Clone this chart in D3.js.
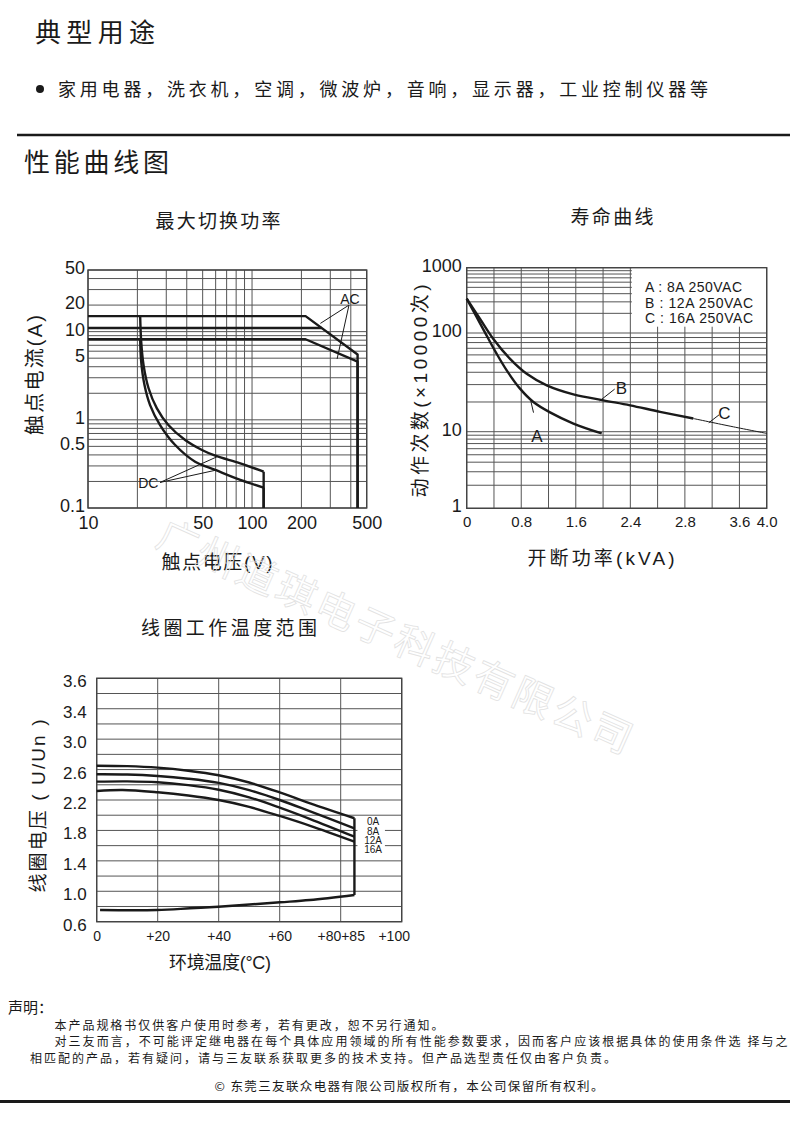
<!DOCTYPE html>
<html>
<head>
<meta charset="utf-8">
<title>性能曲线图</title>
<script src="https://d3js.org/d3.v7.min.js"></script>
<style>
  body { margin: 0; background: #fff; }
  svg text { fill: #1a1a1a; }
  .grid line { stroke: #555; stroke-width: 1; }
  .frame { fill: none; stroke: #444; stroke-width: 1.4; }
  .curve { fill: none; stroke: #1a1a1a; stroke-width: 2.4; stroke-linejoin: round; }
  .thin { fill: none; stroke: #1a1a1a; stroke-width: 1; }
</style>
</head>
<body>
<svg id="page" width="790" height="1128"></svg>
<script>
// ---- 最大切换功率 : 触点电压(V) / 触点电流(A)
var acTop = [[10, 15], [212, 15], [440, 5.5]];
var acMid = [[10, 11], [266, 11]];
var acLow = [[10, 8.2], [212, 8.2], [440, 4.56]];
var dcOuter = [[20.8, 14.8], [21.1, 7.7], [21.8, 4.2], [23.4, 2.28], [26.3, 1.35], [30.9, 0.873],
               [39.1, 0.59], [49.5, 0.455], [59.7, 0.392], [84.8, 0.321], [117.7, 0.258]];
var dcInner = [[20.8, 8.24], [21.1, 4.56], [22.1, 2.48], [23.9, 1.47], [27.5, 0.873], [34, 0.518],
               [45, 0.335], [59.7, 0.27], [84.8, 0.208], [117.7, 0.17]];
var swXTicks = [10, 50, 100, 200, 500];
var swYTicks = [0.1, 0.5, 1, 5, 10, 20, 50];

// ---- 寿命曲线 : 开断功率(kVA) / 动作次数(×10000次)
var lifeA = [[0, 336], [0.147, 175], [0.293, 94], [0.44, 61.5], [0.587, 41.8], [0.782, 27.3],
             [0.978, 20], [1.222, 15.7], [1.565, 12.1], [1.98, 9.5]];
var lifeB = [[0, 336], [0.196, 164], [0.391, 87], [0.636, 54.7], [0.88, 38.6], [1.174, 29.5],
             [1.565, 23.9], [2.005, 20.8], [2.396, 18.5], [2.618, 15.9], [2.924, 13.6]];
var lifeC = [[2.924, 13.6], [3.512, 11.2], [4.0, 9.5]];
var lifeXGrid = [0, 0.4, 0.8, 1.2, 1.6, 2.0, 2.4, 2.6, 2.8, 3.2, 3.6, 4.0];
var lifeXTicks = [0, 0.8, 1.6, 2.4, 2.8, 3.6, 4.0];
var lifeYTicks = [1, 10, 100, 1000];
var lifeLegend = ["A : 8A 250VAC", "B : 12A 250VAC", "C : 16A 250VAC"];

// ---- 线圈工作温度范围 : 环境温度(°C) / U/Un
var coil0A = [[0, 2.651], [10, 2.645], [20, 2.625], [30, 2.585], [40, 2.525], [50, 2.43], [60, 2.3], [70, 2.155], [84.5, 1.96]];
var coil8A = [[0, 2.538], [10, 2.535], [20, 2.516], [30, 2.48], [40, 2.425], [50, 2.33], [60, 2.2], [70, 2.05], [84.5, 1.828]];
var coil12A = [[0, 2.441], [10, 2.445], [20, 2.433], [30, 2.395], [40, 2.335], [50, 2.235], [60, 2.1], [70, 1.95], [84.5, 1.718]];
var coil16A = [[0, 2.318], [8.5, 2.332], [20, 2.302], [30, 2.26], [40, 2.2], [50, 2.11], [60, 1.99], [70, 1.86], [84.5, 1.652]];
var coilMin = [[1.1, 0.754], [19.7, 0.754], [30.6, 0.776], [39.9, 0.797], [60.1, 0.855], [69.9, 0.885], [84.5, 0.951]];
var coilNames = ["0A", "8A", "12A", "16A"];
var coilNameY = [1.915, 1.783, 1.674, 1.543];
var coilXTicks = [0, 20, 40, 60, 80, 100];
var coilXLabels = ["0", "+20", "+40", "+60", "+80+85", "+100"];
var coilYTicks = [0.6, 1.0, 1.4, 1.8, 2.2, 2.6, 3.0, 3.4, 3.6];
var coilYGrid = [0.6, 0.8, 1.0, 1.2, 1.4, 1.6, 1.8, 2.0, 2.2, 2.4, 2.6, 2.8, 3.0, 3.2, 3.4, 3.5, 3.6];

var CJK = '"Noto Sans CJK SC", sans-serif';
var NUM = '"Liberation Sans", "Noto Sans CJK SC", sans-serif';
var svg = d3.select("#page");

function txt(x, y, s, size, o) {
  o = o || {};
  var t = svg.append("text").attr("x", x).attr("y", y).attr("dy", "0.35em")
      .attr("font-size", size).attr("font-family", o.font || CJK)
      .attr("text-anchor", o.anchor || "start").text(s);
  if (o.weight) t.attr("font-weight", o.weight);
  if (o.len) t.attr("textLength", o.len).attr("lengthAdjust", "spacing");
  if (o.rotate) t.attr("transform", "rotate(" + o.rotate + "," + x + "," + y + ")");
  return t;
}

function grid(g, xs, ys, x, y, box) {
  var gg = g.append("g").attr("class", "grid");
  gg.selectAll(".v").data(xs).join("line").attr("class", "v")
    .attr("x1", x).attr("x2", x).attr("y1", box.t).attr("y2", box.b);
  gg.selectAll(".h").data(ys).join("line").attr("class", "h")
    .attr("y1", y).attr("y2", y).attr("x1", box.l).attr("x2", box.r);
}

function axisStyle(sel, size) {
  sel.attr("font-size", size).attr("font-family", NUM);
  sel.select(".domain").remove();
  sel.selectAll("text").attr("fill", "#1a1a1a");
}

// ---------- page texts
txt(35, 33, "典型用途", 26, { len: 120 });
svg.append("circle").attr("cx", 40).attr("cy", 89).attr("r", 4).attr("fill", "#1a1a1a");
txt(58, 90, "家用电器，洗衣机，空调，微波炉，音响，显示器，工业控制仪器等", 18, { len: 650 });
svg.append("line").attr("x1", 17).attr("x2", 790).attr("y1", 135).attr("y2", 135)
   .attr("stroke", "#1a1a1a").attr("stroke-width", 2.5);
txt(24, 163, "性能曲线图", 26, { len: 145 });

// ---------- chart 1 : 最大切换功率
var b1 = { l: 88, r: 366.7, t: 270, b: 508 };
var x1 = d3.scaleLog().domain([10, 500]).range([b1.l, b1.r]);
var y1 = d3.scaleLog().domain([0.1, 50]).range([b1.b, b1.t]);
var g1 = svg.append("g");
grid(g1, x1.ticks(), y1.ticks(), x1, y1, b1);
g1.append("rect").attr("class", "frame").attr("x", b1.l).attr("y", b1.t)
  .attr("width", b1.r - b1.l).attr("height", b1.b - b1.t);
g1.append("g").attr("transform", "translate(0," + b1.b + ")")
  .call(d3.axisBottom(x1).tickValues(swXTicks).tickFormat(d => d).tickSize(0).tickPadding(8))
  .call(axisStyle, 18);
g1.append("g").attr("transform", "translate(" + b1.l + ",0)")
  .call(d3.axisLeft(y1).tickValues(swYTicks).tickFormat(d => d).tickSize(0).tickPadding(3))
  .call(axisStyle, 18)
  .call(g => g.selectAll("text").attr("dy", "0.2em"));

var line1 = d3.line().x(d => x1(d[0])).y(d => y1(d[1]));
var smooth1 = d3.line().curve(d3.curveCatmullRom.alpha(0.5)).x(d => x1(d[0])).y(d => y1(d[1]));
function drop1(arr) { var p = arr[arr.length - 1]; return [p, [p[0], y1.domain()[0]]]; }
[acTop, acLow].forEach(function (a) {
  g1.append("path").attr("class", "curve").attr("d", line1(a.concat(drop1(a).slice(1))));
});
g1.append("path").attr("class", "curve").attr("d", line1(acMid));
[dcOuter, dcInner].forEach(function (a) {
  g1.append("path").attr("class", "curve").attr("d", smooth1(a));
  g1.append("path").attr("class", "curve").attr("d", line1(drop1(a)));
});
// AC / DC callouts
txt(x1(395), y1(23.5), "AC", 14, { font: NUM, anchor: "middle" });
g1.append("path").attr("class", "thin")
  .attr("d", line1([[261, 12.4], [390, 20], [330, 4.9]]));
txt(x1(23.3), y1(0.19), "DC", 14, { font: NUM, anchor: "middle" });
g1.append("path").attr("class", "thin")
  .attr("d", line1([[61, 0.38], [27.5, 0.195], [61, 0.27]]));
txt(218, 221, "最大切换功率", 19, { anchor: "middle", len: 125 });
txt(217, 562, "触点电压(V)", 19, { anchor: "middle", len: 111, font: NUM });
txt(35, 375, "触点电流(A)", 20, { anchor: "middle", len: 120, font: NUM, rotate: -90 });

// ---------- chart 2 : 寿命曲线
var b2 = { l: 466.7, r: 766.7, t: 267.7, b: 508.3 };
var cell2 = (b2.r - b2.l) / 11;
var x2 = d3.scaleLinear().domain([0, 2.4, 2.8, 3.6, 4.0]).range([0, 6, 8, 10, 11].map(k => b2.l + k * cell2));
var y2 = d3.scaleLog().domain([1, 10, 100, 1000]).range([b2.b, 431.7, 333, b2.t]);
var g2 = svg.append("g");
grid(g2, lifeXGrid, y2.ticks(), x2, y2, b2);
g2.append("rect").attr("x", x2(2.4) + 1.5).attr("y", b2.t).attr("width", b2.r - x2(2.4) - 1.5)
  .attr("height", 59).attr("fill", "#fff");
g2.append("rect").attr("class", "frame").attr("x", b2.l).attr("y", b2.t)
  .attr("width", b2.r - b2.l).attr("height", b2.b - b2.t);
g2.append("g").attr("transform", "translate(0," + b2.b + ")")
  .call(d3.axisBottom(x2).tickValues(lifeXTicks).tickFormat(d3.format(".1f")).tickSize(0).tickPadding(8))
  .call(axisStyle, 15)
  .call(g => g.selectAll("text").text((d, i) => i === 0 ? "0" : d3.format(".1f")(d)));
g2.append("g").attr("transform", "translate(" + b2.l + ",0)")
  .call(d3.axisLeft(y2).tickValues(lifeYTicks).tickFormat(d => d).tickSize(0).tickPadding(5))
  .call(axisStyle, 18)
  .call(g => g.selectAll("text").attr("dy", "0.2em"));

var smooth2 = d3.line().curve(d3.curveCatmullRom.alpha(0.5)).x(d => x2(d[0])).y(d => y2(d[1]));
var line2 = d3.line().x(d => x2(d[0])).y(d => y2(d[1]));
g2.append("path").attr("class", "curve").attr("d", smooth2(lifeA));
g2.append("path").attr("class", "curve").attr("d", smooth2(lifeB));
g2.append("path").attr("class", "thin").attr("stroke-width", 1.2).attr("d", smooth2(lifeC));
lifeLegend.forEach(function (s, i) {
  txt(645, 287.3 + i * 15.5, s, 14, { font: NUM, len: [97, 108, 108][i] });
});
txt(x2(1.03), y2(8.7), "A", 17, { font: NUM, anchor: "middle" });
g2.append("path").attr("class", "thin").attr("d", line2([[0.94, 20.5], [0.98, 15.6]]));
txt(x2(2.27), y2(27.6), "B", 17, { font: NUM, anchor: "middle" });
g2.append("path").attr("class", "thin").attr("d", line2([[2.17, 27], [1.95, 20.5]]));
txt(x2(3.38), y2(15.5), "C", 17, { font: NUM, anchor: "middle" });
g2.append("path").attr("class", "thin").attr("d", line2([[3.3, 14.8], [3.15, 12.3]]));
txt(612, 217, "寿命曲线", 19, { anchor: "middle", len: 83 });
txt(601, 558, "开断功率(kVA)", 19, { anchor: "middle", len: 147, font: NUM });
txt(420, 391, "动作次数(×10000次)", 19, { anchor: "middle", len: 213, font: NUM, rotate: -90 });

// ---------- chart 3 : 线圈工作温度范围
var b3 = { l: 96.7, r: 401.7, t: 678.3, b: 921.7 };
var x3 = d3.scaleLinear().domain([0, 100]).range([b3.l, b3.r]);
var y3 = d3.scaleLinear().domain([0.6, 3.4, 3.6]).range([b3.b, b3.b - 14 * (b3.b - b3.t) / 16, b3.t]);
var g3 = svg.append("g");
grid(g3, coilXTicks, coilYGrid, x3, y3, b3);
g3.append("rect").attr("class", "frame").attr("x", b3.l).attr("y", b3.t)
  .attr("width", b3.r - b3.l).attr("height", b3.b - b3.t);
g3.append("g").attr("transform", "translate(0," + b3.b + ")")
  .call(d3.axisBottom(x3).tickValues(coilXTicks).tickFormat((d, i) => coilXLabels[i]).tickSize(0).tickPadding(9))
  .call(axisStyle, 14)
  .call(g => g.selectAll("text").attr("dx", (d, i) => i === coilXTicks.length - 1 ? -8 : 0));
g3.append("g").attr("transform", "translate(" + b3.l + ",0)")
  .call(d3.axisLeft(y3).tickValues(coilYTicks).tickFormat(d3.format(".1f")).tickSize(0).tickPadding(10))
  .call(axisStyle, 17)
  .call(g => g.selectAll("text").attr("dy", "0.5em"));

var smooth3 = d3.line().curve(d3.curveCatmullRom.alpha(0.5)).x(d => x3(d[0])).y(d => y3(d[1]));
var line3 = d3.line().x(d => x3(d[0])).y(d => y3(d[1]));
[coil0A, coil8A, coil12A, coil16A, coilMin].forEach(function (a) {
  g3.append("path").attr("class", "curve").attr("d", smooth3(a));
});
g3.append("path").attr("class", "curve")
  .attr("d", line3([coil0A[coil0A.length - 1], coilMin[coilMin.length - 1]]));
g3.append("rect").attr("x", x3(85) + 1.5).attr("y", y3(1.965))
  .attr("width", x3(94.5) - x3(85) - 1.5).attr("height", y3(1.505) - y3(1.965)).attr("fill", "#fff");
coilNames.forEach(function (s, i) {
  txt(x3(90.6), y3(coilNameY[i]), s, 10, { font: NUM, anchor: "middle" });
});
txt(229, 628, "线圈工作温度范围", 19, { anchor: "middle", len: 176 });
txt(220, 963, "环境温度(°C)", 18, { anchor: "middle", len: 102, font: NUM });
txt(38, 806, "线圈电压 ( U/Un )", 19, { anchor: "middle", len: 173, font: NUM, rotate: -90 });

// ---------- watermark
txt(395, 637, "广州道琪电子科技有限公司", 40, { anchor: "middle", len: 515, rotate: 24 })
  .attr("stroke", "#e2e2e2").attr("stroke-width", 0.8).style("fill", "rgba(0,0,0,0.02)");

// ---------- statement
txt(8, 1008, "声明：", 15);
txt(54.5, 1026, "本产品规格书仅供客户使用时参考，若有更改，恕不另行通知。", 12, { len: 389 });
txt(54.5, 1042, "对三友而言，不可能评定继电器在每个具体应用领域的所有性能参数要求，因而客户应该根据具体的使用条件选 择与之", 12, { len: 733 });
txt(30, 1059, "相匹配的产品，若有疑问，请与三友联系获取更多的技术支持。但产品选型责任仅由客户负责。", 12, { len: 586 });
txt(409, 1087, "© 东莞三友联众电器有限公司版权所有，本公司保留所有权利。", 12.5, { anchor: "middle", len: 389 });
svg.append("line").attr("x1", 0).attr("x2", 790).attr("y1", 1101.5).attr("y2", 1101.5)
   .attr("stroke", "#1a1a1a").attr("stroke-width", 3);
</script>
</body>
</html>
